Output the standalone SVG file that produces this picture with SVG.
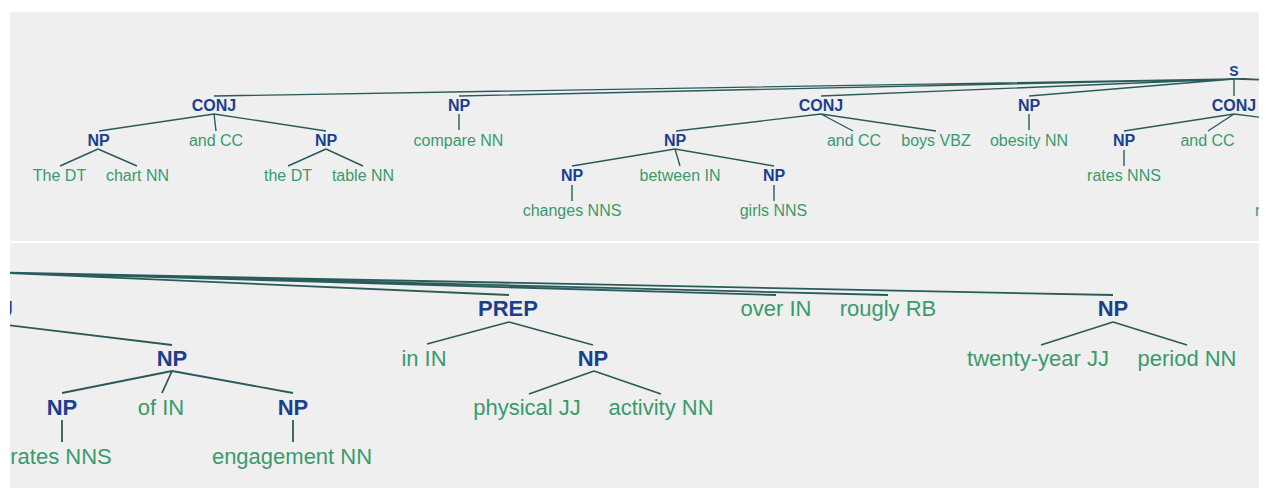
<svg xmlns="http://www.w3.org/2000/svg" width="1267" height="488" viewBox="0 0 1267 488">
<style>
.bg{fill:#efefef}
.lbl{font-family:"Liberation Sans",Arial,sans-serif;font-weight:bold;fill:#1c3f8c;text-anchor:middle}
.leaf{font-family:"Liberation Sans",Arial,sans-serif;fill:#3a9a6c;text-anchor:middle}
.t{font-size:16px}
.s{font-size:14px}
.b{font-size:22px}
.e{stroke:#2a5b5b;fill:none;stroke-linecap:butt}
.et{stroke-width:1.4}
.eb{stroke-width:1.8}
</style>
<defs>
<clipPath id="clipTop"><rect x="10" y="12" width="1249" height="229"/></clipPath>
<clipPath id="clipBot"><rect x="10" y="243" width="1249" height="245"/></clipPath>
</defs>
<rect x="0" y="0" width="1267" height="488" fill="#ffffff"/>
<rect class="bg" x="10" y="12" width="1249" height="229"/>
<rect class="bg" x="10" y="243" width="1249" height="245"/>

<g id="top-panel" clip-path="url(#clipTop)">
<g id="top-connectors" class="e et">
<path d="M1234 79L214 96M1234 79L459 96M1234 79L821 96M1234 79L1029 96M1234 79V96"/>
<path d="M1234 79L1700 96M1234 79L1950 96M1234 79L2150 96M1234 79L2400 96"/>
<path d="M214 114L99 131M214 114L216 131M214 114L326 131"/>
<path d="M98 149L60 166M98 149L137 166M326 149L288 166M326 149L363 166"/>
<path d="M459 114V130M1029 114V130"/>
<path d="M821 114L676 131M821 114L853 131M821 114L936 131"/>
<path d="M675 149L572 166M675 149L680 166M675 149L774 166"/>
<path d="M572 185V201M774 185V201"/>
<path d="M1234 114L1124 131M1234 114L1208 131M1234 114L1370 131"/>
<path d="M1124 150V166"/>
</g>
<g id="t-s"><text class="lbl s" x="1234" y="76">S</text></g>
<g id="t-conj1"><text class="lbl t" x="214" y="111">CONJ</text></g>
<g id="t-np1"><text class="lbl t" x="98.5" y="146">NP</text></g>
<g id="t-cc1"><text class="leaf t" x="216" y="146">and CC</text></g>
<g id="t-np2"><text class="lbl t" x="326" y="146">NP</text></g>
<g id="t-the1"><text class="leaf t" x="59.5" y="181">The DT</text></g>
<g id="t-chart"><text class="leaf t" x="137.5" y="181">chart NN</text></g>
<g id="t-the2"><text class="leaf t" x="288" y="181">the DT</text></g>
<g id="t-table"><text class="leaf t" x="363" y="181">table NN</text></g>
<g id="t-np3"><text class="lbl t" x="459" y="111">NP</text></g>
<g id="t-compare"><text class="leaf t" x="458.5" y="146">compare NN</text></g>
<g id="t-conj2"><text class="lbl t" x="821" y="111">CONJ</text></g>
<g id="t-np4"><text class="lbl t" x="675" y="146">NP</text></g>
<g id="t-cc2"><text class="leaf t" x="854" y="146">and CC</text></g>
<g id="t-boys"><text class="leaf t" x="936" y="146">boys VBZ</text></g>
<g id="t-np5"><text class="lbl t" x="572" y="181">NP</text></g>
<g id="t-between"><text class="leaf t" x="680" y="181">between IN</text></g>
<g id="t-np6"><text class="lbl t" x="774" y="181">NP</text></g>
<g id="t-changes"><text class="leaf t" x="572" y="216">changes NNS</text></g>
<g id="t-girls"><text class="leaf t" x="773.5" y="216">girls NNS</text></g>
<g id="t-np7"><text class="lbl t" x="1029" y="111">NP</text></g>
<g id="t-obesity"><text class="leaf t" x="1029" y="146">obesity NN</text></g>
<g id="t-conj3"><text class="lbl t" x="1234" y="111">CONJ</text></g>
<g id="t-np8"><text class="lbl t" x="1124" y="146">NP</text></g>
<g id="t-cc3"><text class="leaf t" x="1207.5" y="146">and CC</text></g>
<g id="t-rates1"><text class="leaf t" x="1124" y="181">rates NNS</text></g>
<g id="t-rates2"><text class="leaf t" x="1292" y="216">rates NNS</text></g>
</g>

<g id="bottom-panel" clip-path="url(#clipBot)">
<g id="bottom-connectors" class="e eb">
<path d="M-18 272L509 295M-18 272L776 295M-18 272L888 295M-18 272L1113 295"/>
<path d="M-18 322L172 345"/>
<path d="M172 371L62 393M172 371L162 393M172 371L293 393"/>
<path d="M62 420V442M293 420V442"/>
<path d="M509 322L427 344M509 322L593 345"/>
<path d="M594 371L529 394M594 371L661 394"/>
<path d="M1113 322L1041 345M1113 322L1187 345"/>
</g>
<g id="b-conj"><text class="lbl b" x="13" y="316" style="text-anchor:end">CONJ</text></g>
<g id="b-np1"><text class="lbl b" x="172" y="366">NP</text></g>
<g id="b-np2"><text class="lbl b" x="62" y="415">NP</text></g>
<g id="b-of"><text class="leaf b" x="161" y="415">of IN</text></g>
<g id="b-np3"><text class="lbl b" x="293" y="415">NP</text></g>
<g id="b-rates"><text class="leaf b" x="61" y="464">rates NNS</text></g>
<g id="b-engagement"><text class="leaf b" x="292" y="464">engagement NN</text></g>
<g id="b-prep"><text class="lbl b" x="508" y="316">PREP</text></g>
<g id="b-in"><text class="leaf b" x="424" y="366">in IN</text></g>
<g id="b-np4"><text class="lbl b" x="593" y="366">NP</text></g>
<g id="b-physical"><text class="leaf b" x="527" y="415">physical JJ</text></g>
<g id="b-activity"><text class="leaf b" x="661" y="415">activity NN</text></g>
<g id="b-over"><text class="leaf b" x="776" y="316">over IN</text></g>
<g id="b-rougly"><text class="leaf b" x="888" y="316">rougly RB</text></g>
<g id="b-np5"><text class="lbl b" x="1113" y="316">NP</text></g>
<g id="b-twenty"><text class="leaf b" x="1038" y="366">twenty-year JJ</text></g>
<g id="b-period"><text class="leaf b" x="1187" y="366">period NN</text></g>
</g>
</svg>
